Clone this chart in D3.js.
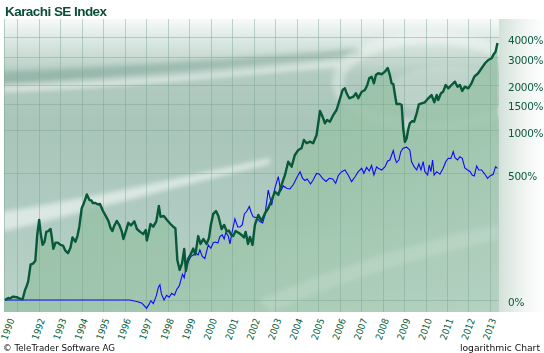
<!DOCTYPE html>
<html>
<head>
<meta charset="utf-8">
<script src="https://cdn.jsdelivr.net/npm/d3@7/dist/d3.min.js"></script>
<style>
	body { margin: 0; background: #fff; }
	svg { display: block; }
</style>
</head>
<body>
<div id="chart"></div>
<script>
'use strict';

// Karachi SE Index, % change since start (decimal year, percent)
var kseSeries = [
	[1990.43,0],[1990.58,3],[1990.66,2],[1990.81,5],[1990.97,4],[1991.13,2],[1991.25,1],[1991.36,15],[1991.44,22],[1991.51,30],
	[1991.62,65],[1991.75,68],[1991.84,74],[1991.93,151],[1992.02,210],[1992.09,157],[1992.18,118],[1992.27,128],[1992.35,162],[1992.44,165],
	[1992.55,173],[1992.62,137],[1992.68,106],[1992.78,125],[1992.89,125],[1993.01,118],[1993.13,116],[1993.24,101],[1993.36,94],[1993.48,110],
	[1993.57,142],[1993.71,128],[1993.80,147],[1993.89,183],[1994.00,266],[1994.10,293],[1994.24,345],[1994.36,311],[1994.45,309],[1994.52,294],
	[1994.64,294],[1994.76,286],[1994.85,289],[1994.99,252],[1995.13,226],[1995.24,206],[1995.34,177],[1995.43,165],[1995.51,185],[1995.63,206],
	[1995.76,187],[1995.86,165],[1995.94,137],[1996.07,169],[1996.17,198],[1996.29,187],[1996.45,204],[1996.57,173],[1996.71,163],[1996.86,154],
	[1996.98,169],[1997.03,132],[1997.11,156],[1997.20,193],[1997.33,182],[1997.47,204],[1997.59,278],[1997.67,224],[1997.82,228],[1997.97,210],
	[1998.13,193],[1998.27,181],[1998.36,176],[1998.45,76],[1998.56,53],[1998.67,68],[1998.77,106],[1998.85,51],[1998.95,79],[1999.06,89],
	[1999.19,107],[1999.29,90],[1999.42,147],[1999.53,121],[1999.66,137],[1999.81,121],[1999.92,140],[2000.01,189],[2000.12,238],[2000.25,252],
	[2000.36,228],[2000.51,173],[2000.63,189],[2000.75,164],[2000.85,167],[2000.96,151],[2001.05,147],[2001.16,165],[2001.32,158],[2001.44,151],
	[2001.55,142],[2001.63,162],[2001.74,121],[2001.83,144],[2001.95,118],[2002.06,189],[2002.22,233],[2002.37,206],[2002.53,241],[2002.68,266],
	[2002.84,311],[2002.99,363],[2003.15,342],[2003.30,409],[2003.46,486],[2003.61,607],[2003.77,559],[2003.92,678],[2004.08,734],[2004.23,755],
	[2004.34,861],[2004.47,818],[2004.62,839],[2004.77,818],[2004.93,932],[2005.09,1349],[2005.21,1237],[2005.32,1117],[2005.42,1176],[2005.55,1145],
	[2005.71,1270],[2005.86,1369],[2005.98,1552],[2006.14,1849],[2006.25,1896],[2006.33,1760],[2006.45,1633],[2006.64,1673],[2006.76,1760],[2006.87,1633],
	[2007.03,1803],[2007.18,1849],[2007.29,1992],[2007.38,2201],[2007.49,2253],[2007.60,2043],[2007.69,2311],[2007.80,2370],[2007.96,2335],[2008.11,2426],
	[2008.24,2561],[2008.34,2311],[2008.42,2043],[2008.50,2022],[2008.58,1716],[2008.65,1499],[2008.81,1499],[2008.89,1477],[2008.96,1039],[2009.04,835],
	[2009.12,882],[2009.19,1007],[2009.27,1117],[2009.38,1157],[2009.47,1145],[2009.59,1303],[2009.69,1492],[2009.82,1515],[2009.97,1538],[2010.13,1633],
	[2010.28,1716],[2010.41,1538],[2010.52,1716],[2010.59,1592],[2010.72,1760],[2010.82,1803],[2010.94,1992],[2011.06,1896],[2011.21,1992],[2011.37,2092],
	[2011.49,1942],[2011.60,1992],[2011.71,1822],[2011.83,1942],[2011.99,1896],[2012.14,2043],[2012.27,2253],[2012.45,2370],[2012.61,2550],[2012.77,2744],
	[2012.92,2880],[2013.08,2952],[2013.15,3098],[2013.26,3252],[2013.35,3690]
];

// comparison series (blue), % change
var compareSeries = [
	[1990.43,0],[1996.24,0],[1996.56,-2],[1996.79,-4],[1997.02,-11],[1997.13,-6],[1997.22,-1],[1997.33,-5],[1997.47,6],[1997.57,20],
	[1997.64,24],[1997.71,9],[1997.83,0],[1997.95,7],[1998.07,4],[1998.19,10],[1998.32,7],[1998.42,16],[1998.54,22],[1998.63,35],
	[1998.69,44],[1998.77,37],[1998.85,57],[1998.96,72],[1999.08,85],[1999.19,89],[1999.30,94],[1999.42,89],[1999.50,103],[1999.61,85],
	[1999.73,80],[1999.89,118],[2000.01,108],[2000.12,125],[2000.22,127],[2000.34,124],[2000.43,145],[2000.54,151],[2000.63,137],[2000.71,160],
	[2000.82,147],[2000.90,121],[2000.99,158],[2001.13,215],[2001.26,181],[2001.36,181],[2001.47,189],[2001.57,238],[2001.69,252],[2001.80,275],
	[2001.88,247],[2001.98,224],[2002.14,220],[2002.29,203],[2002.42,197],[2002.53,233],[2002.68,374],[2002.84,283],[2002.99,386],[2003.15,472],
	[2003.26,367],[2003.38,402],[2003.54,386],[2003.69,381],[2003.85,412],[2004.00,462],[2004.16,514],[2004.28,459],[2004.39,442],[2004.49,454],
	[2004.65,416],[2004.77,446],[2004.93,499],[2005.05,494],[2005.21,459],[2005.37,435],[2005.52,459],[2005.68,454],[2005.82,421],[2005.94,482],
	[2006.10,514],[2006.25,529],[2006.40,486],[2006.56,433],[2006.72,472],[2006.87,514],[2007.03,544],[2007.13,500],[2007.26,552],[2007.38,520],
	[2007.49,570],[2007.60,486],[2007.72,556],[2007.80,544],[2007.96,529],[2008.11,556],[2008.24,614],[2008.34,624],[2008.50,729],[2008.58,642],
	[2008.65,599],[2008.76,624],[2008.85,715],[2008.96,755],[2009.12,768],[2009.27,734],[2009.35,607],[2009.47,559],[2009.59,529],[2009.69,585],
	[2009.79,529],[2009.89,607],[2009.97,514],[2010.10,486],[2010.17,575],[2010.25,514],[2010.33,624],[2010.40,486],[2010.52,514],[2010.67,492],
	[2010.82,544],[2010.94,607],[2011.06,642],[2011.18,640],[2011.29,715],[2011.37,649],[2011.49,624],[2011.60,659],[2011.71,642],[2011.83,547],
	[2011.96,529],[2012.07,516],[2012.17,486],[2012.27,478],[2012.38,566],[2012.48,529],[2012.61,529],[2012.73,500],[2012.89,459],[2013.00,478],
	[2013.15,492],[2013.26,559],[2013.35,544]
];

var yTickValues = [0, 500, 1000, 1500, 2000, 3000, 4000];
var gridYears = [1991,1992,1993,1994,1995,1996,1997,1998,1999,2000,2001,2002,2003,2004,2005,2006,2007,2008,2009,2010,2011,2012,2013];
var labelYears = [1992,1993,1994,1995,1996,1997,1998,1999,2000,2001,2002,2003,2004,2005,2006,2007,2008,2009,2010,2011,2012,2013];
var timeRange = [1990.43, 2013.42];

var W = 544, H = 353;
var plot = {left: 4, top: 19, right: 499, bottom: 312};

var svg = d3.select('#chart').append('svg')
	.attr('width', W)
	.attr('height', H);

var x = d3.scaleLinear()
	.domain(timeRange)
	.range([5, plot.right]);

// percent change shown on a log scale of (100 + pct)
var y = d3.scaleLog()
	.domain([84.4, 5320])
	.range([plot.bottom, plot.top]);

function yp(p){ return y(100 + p); }

var defs = svg.append('defs');

var bg = defs.append('linearGradient').attr('id', 'bg').attr('x1', 0).attr('y1', 0).attr('x2', 0).attr('y2', 1);
[[0, '#f7faf9'], [0.05, '#e3ede9'], [0.13, '#c9dbd3'], [0.19, '#b2cbc1'], [0.35, '#a9c5ba'], [0.7, '#b0cbc1'], [1, '#bad3c9']]
	.forEach(function(s){ bg.append('stop').attr('offset', s[0]).attr('stop-color', s[1]); });

var af = defs.append('linearGradient').attr('id', 'areaFill').attr('x1', 0).attr('y1', 0).attr('x2', 1).attr('y2', 1);
[[0, '#8dbb9e'], [0.6, '#9cc4aa'], [1, '#b4d2bf']]
	.forEach(function(s){ af.append('stop').attr('offset', s[0]).attr('stop-color', s[1]); });

var side = defs.append('linearGradient').attr('id', 'side').attr('x1', 0).attr('y1', 0).attr('x2', 1).attr('y2', 0);
[[0, '#d3e1da'], [0.5, '#eef3f0'], [1, '#ffffff']]
	.forEach(function(s){ side.append('stop').attr('offset', s[0]).attr('stop-color', s[1]); });

defs.append('filter').attr('id', 'blur').attr('x', '-20%').attr('y', '-50%').attr('width', '140%').attr('height', '200%')
	.append('feGaussianBlur').attr('stdDeviation', 2.5);

defs.append('clipPath').attr('id', 'clip')
	.append('rect')
	.attr('x', plot.left).attr('y', plot.top)
	.attr('width', plot.right - plot.left).attr('height', plot.bottom - plot.top);

// side panel behind the value labels
svg.append('rect')
	.attr('x', plot.right).attr('y', plot.top)
	.attr('width', W - plot.right).attr('height', plot.bottom - plot.top)
	.attr('fill', 'url(#side)');

var g = svg.append('g').attr('clip-path', 'url(#clip)');

g.append('rect')
	.attr('x', plot.left).attr('y', plot.top)
	.attr('width', plot.right - plot.left).attr('height', plot.bottom - plot.top)
	.attr('fill', 'url(#bg)');

// background swooshes
var deco = g.append('g').attr('filter', 'url(#blur)');
deco.append('path')
	.attr('d', 'M0,72 C120,66 250,58 360,48 L360,56 C250,66 120,76 0,84 Z')
	.attr('fill', '#6f9c8b').attr('opacity', 0.4);
deco.append('path')
	.attr('d', 'M0,86 C120,82 230,72 340,62 L340,66 C230,76 120,88 0,92 Z')
	.attr('fill', '#ffffff').attr('opacity', 0.55);
deco.append('path')
	.attr('d', 'M0,212 C80,200 170,180 270,158 L270,164 C170,188 80,214 0,232 Z')
	.attr('fill', '#ffffff').attr('opacity', 0.55);
deco.append('ellipse')
	.attr('cx', 430).attr('cy', 82).attr('rx', 92).attr('ry', 44)
	.attr('fill', 'none').attr('stroke', '#ffffff').attr('stroke-width', 12).attr('opacity', 0.35);
deco.append('ellipse')
	.attr('cx', 445).attr('cy', 90).attr('rx', 55).attr('ry', 24)
	.attr('fill', '#ffffff').attr('opacity', 0.18);

var area = d3.area()
	.x(function(d){ return x(d[0]); })
	.y0(plot.bottom)
	.y1(function(d){ return yp(d[1]); });

g.append('path')
	.datum(kseSeries)
	.attr('d', area)
	.attr('fill', 'url(#areaFill)')
	.attr('opacity', 0.85);

// light streaks over the lower part
var deco2 = g.append('g').attr('filter', 'url(#blur)');
deco2.append('path')
	.attr('d', 'M260,300 C330,270 420,240 499,225 L499,240 C420,256 330,285 270,312 Z')
	.attr('fill', '#ffffff').attr('opacity', 0.15);

// grid
g.append('g')
	.selectAll('line')
	.data(gridYears)
	.enter().append('line')
	.attr('x1', function(d){ return Math.round(x(d)) + 0.5; })
	.attr('x2', function(d){ return Math.round(x(d)) + 0.5; })
	.attr('y1', plot.top).attr('y2', plot.bottom)
	.attr('stroke', '#7aa593').attr('stroke-opacity', 0.45);

g.append('g')
	.selectAll('line')
	.data(yTickValues)
	.enter().append('line')
	.attr('x1', plot.left).attr('x2', plot.right)
	.attr('y1', function(d){ return Math.round(yp(d)) + 0.5; })
	.attr('y2', function(d){ return Math.round(yp(d)) + 0.5; })
	.attr('stroke', '#7aa593').attr('stroke-opacity', 0.45);

g.append('line')
	.attr('x1', plot.left + 0.5).attr('x2', plot.left + 0.5)
	.attr('y1', plot.top).attr('y2', plot.bottom)
	.attr('stroke', '#7aa593').attr('stroke-opacity', 0.5);

var line = d3.line()
	.x(function(d){ return x(d[0]); })
	.y(function(d){ return yp(d[1]); });

g.append('path')
	.datum(compareSeries)
	.attr('d', line)
	.attr('fill', 'none')
	.attr('stroke', '#0a0aff')
	.attr('stroke-width', 1.1);

g.append('path')
	.datum(kseSeries)
	.attr('d', line)
	.attr('fill', 'none')
	.attr('stroke', '#08583a')
	.attr('stroke-width', 2.4)
	.attr('stroke-linejoin', 'round');

// value labels on the right
svg.append('g')
	.selectAll('text')
	.data(yTickValues)
	.enter().append('text')
	.attr('x', 508)
	.attr('y', function(d){ return yp(d) + 2.7; })
	.attr('dy', '0.36em')
	.attr('font-family', 'DejaVu Sans, Verdana, sans-serif')
	.attr('font-size', 10.5)
	.attr('letter-spacing', -0.3)
	.attr('fill', '#0b5a3c')
	.text(function(d){ return d + '%'; });

// rotated year labels
var xl = svg.append('g')
	.attr('font-family', 'DejaVu Sans Condensed, DejaVu Sans, sans-serif')
	.attr('font-size', 9.5)
	.attr('fill', '#07603c');

xl.selectAll('text.yr')
	.data(labelYears)
	.enter().append('text')
	.attr('class', 'yr')
	.attr('text-anchor', 'end')
	.attr('transform', function(d){ return 'translate(' + (x(d) + 6.5) + ',320) rotate(-70)'; })
	.text(function(d){ return d; });

xl.append('text')
	.attr('text-anchor', 'end')
	.attr('transform', 'translate(' + (x(timeRange[0]) + 9.5) + ',320) rotate(-70)')
	.text('1990');

svg.append('text')
	.attr('x', 5).attr('y', 16)
	.attr('font-family', 'Liberation Sans, Arial, sans-serif')
	.attr('font-weight', 'bold')
	.attr('font-size', 13.5)
	.attr('letter-spacing', -0.55)
	.attr('fill', '#0a4f35')
	.text('Karachi SE Index');

svg.append('text')
	.attr('x', 3).attr('y', 351)
	.attr('font-family', 'DejaVu Sans, Verdana, sans-serif')
	.attr('font-size', 8.7)
	.attr('fill', '#111')
	.text('\u00a9 TeleTrader Software AG');

svg.append('text')
	.attr('x', 540).attr('y', 351)
	.attr('text-anchor', 'end')
	.attr('font-family', 'DejaVu Sans, Verdana, sans-serif')
	.attr('font-size', 9.2)
	.attr('fill', '#111')
	.text('logarithmic Chart');
</script>
</body>
</html>
